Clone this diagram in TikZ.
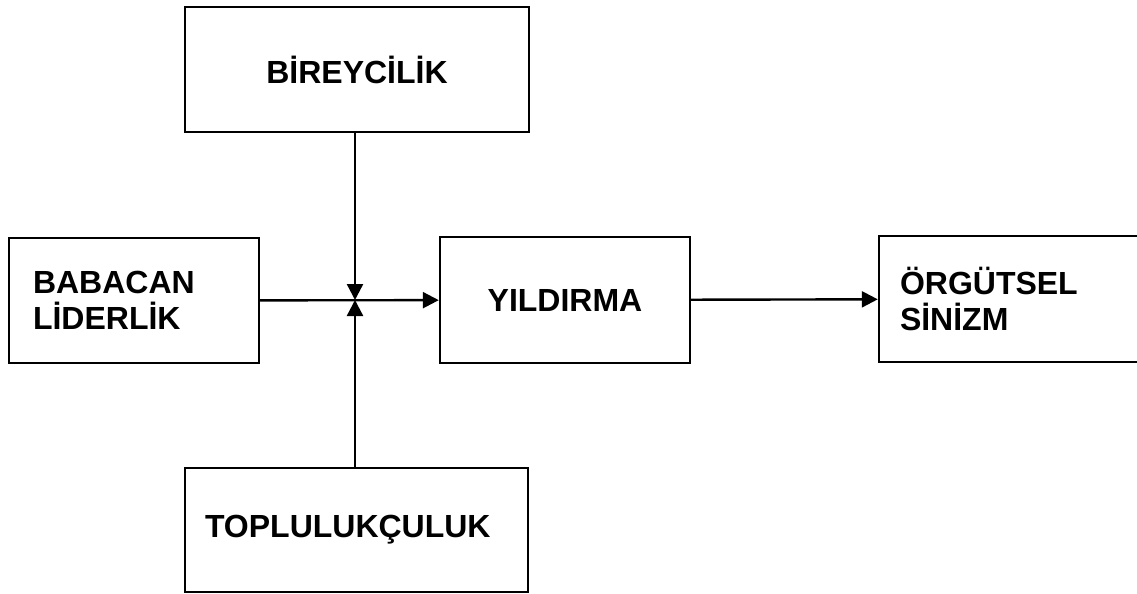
\documentclass[tikz,border=0pt]{standalone}
\usepackage{fontspec}
\setmainfont{Liberation Sans}
\usetikzlibrary{arrows.meta}
\begin{document}
\begin{tikzpicture}[x=0.5pt,y=-0.5pt,line join=miter,>={Triangle[length=8pt,width=8pt]},
  box/.style={draw,line width=1.2pt,inner sep=0pt,font=\fontsize{16}{18}\selectfont\bfseries},
  arr/.style={->,line width=1.2pt}]
\clip (0,0) rectangle (1137,594);
\node[box,minimum width=172pt,minimum height=62.5pt] (bir) at (357,69.5) {BİREYCİLİK};
\node[box,align=left,inner xsep=12pt,text width=101pt,minimum height=62.5pt] (bab) at (134,300.5) {BABACAN\\LİDERLİK};
\node[box,minimum width=125pt,minimum height=63pt] (yil) at (565,300) {YILDIRMA};
\node[box,align=left,inner xsep=10.5pt,text width=119.5pt,minimum height=63pt] (org) at (1019.5,299) {ÖRGÜTSEL\\SİNİZM};
\node[box,align=left,inner xsep=10pt,text width=151.5pt,minimum height=62pt] (top) at (356.5,530) {TOPLULUKÇULUK};
\coordinate (jn) at (355,300);
\draw[arr] (bab) -- (yil);
\draw[arr] (bir.south -| jn) -- (jn);
\draw[arr] (top.north -| jn) -- (jn);
\draw[arr] (yil) -- (org);
\end{tikzpicture}
\end{document}
